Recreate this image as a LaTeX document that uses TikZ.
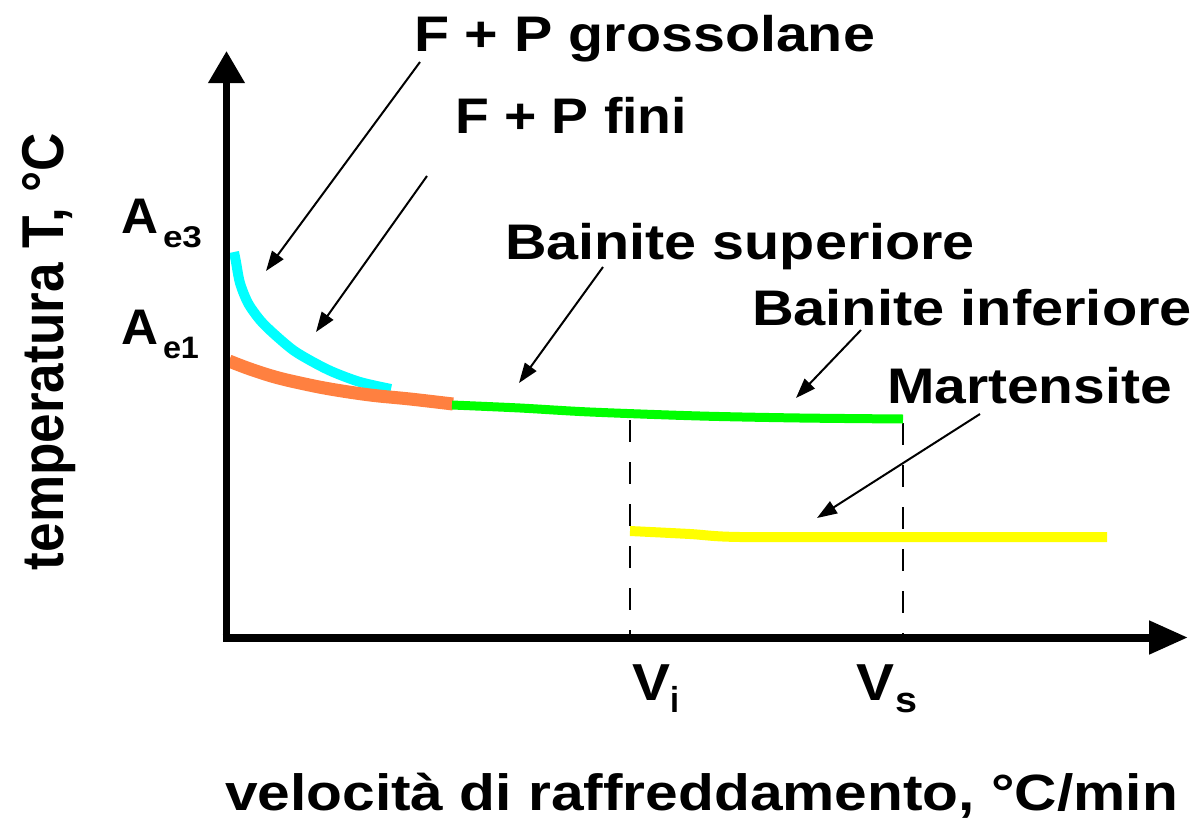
\documentclass[tikz,border=0pt]{standalone}
\usepackage{fontspec}
\setmainfont{Liberation Sans}
\usetikzlibrary{arrows.meta}
\newlength\fitlen
\newcommand\fitbox[3]{%
  \settowidth\fitlen{\fontsize{#2}{#2}\selectfont\bfseries #3}%
  \pgfmathsetmacro\fitsx{#1/\fitlen}%
  \scalebox{\fitsx}[1]{\fontsize{#2}{#2}\selectfont\bfseries #3}}
\definecolor{cyancurve}{RGB}{0,255,255}
\definecolor{orangecurve}{RGB}{255,128,64}
\definecolor{greencurve}{RGB}{0,255,0}
\definecolor{yellowcurve}{RGB}{255,255,0}
\begin{document}
\begin{tikzpicture}[x=1pt,y=-1pt,
  lbl/.style={anchor=base west,inner sep=0pt,outer sep=0pt},
  yaxis/.style={line width=7pt,-{Triangle[length=32pt,width=35pt]}},
  xaxis/.style={line width=8pt,-{Triangle[length=39pt,width=32pt]}},
  pointer/.style={line width=2pt,-{Triangle[length=20pt,width=14pt]}},
  guide/.style={line width=2.5pt,dash pattern=on 22pt off 20pt},
  band/.style={line cap=butt,line join=round}]
\useasboundingbox[fill=white] (0,0) rectangle (1200,822);

% dashed guides
\coordinate (vitop) at (630,420);
\coordinate (vibot) at (630,637);
\coordinate (vstop) at (903,423);
\coordinate (vsbot) at (903,637);
\draw[guide] (vitop) -- (vibot);
\draw[guide] (vstop) -- (vsbot);

% curves
\draw[band,cyancurve,line width=10pt] plot[smooth] coordinates
  {(234,252) (236,262) (240,283) (248,303) (260,320) (273,333) (293,350) (313,362) (333,372) (360,382) (391,389)};
\draw[band,orangecurve,line width=13pt] plot[smooth,tension=0.6] coordinates
  {(229,361) (250,369) (275,377) (300,383) (330,389) (370,395) (410,399) (453,404)};
\draw[band,greencurve,line width=9pt] plot[smooth] coordinates
  {(452,405) (520,408) (590,412) (700,416) (800,418) (903,419)};
\draw[band,yellowcurve,line width=10pt] plot[smooth] coordinates
  {(630,531) (690,534) (740,537) (900,537) (1107,537)};

% axes
\coordinate (ybot) at (226.5,641.5);
\coordinate (ytip) at (226.5,51);
\coordinate (xleft) at (222.5,637.5);
\coordinate (xtip) at (1188,637.5);
\draw[yaxis] (ybot) -- (ytip);
\draw[xaxis] (xleft) -- (xtip);

% labels
\node[lbl] (fpg) at (414,51) {\fitbox{461}{50}{F + P grossolane}};
\node[lbl] (fpf) at (455,133) {\fitbox{232}{50}{F + P fini}};
\node[lbl] (bsup) at (505,259) {\fitbox{470}{50}{Bainite superiore}};
\node[lbl] (binf) at (752,325) {\fitbox{440}{50}{Bainite inferiore}};
\node[lbl] (mart) at (887,403) {\fitbox{285}{50}{Martensite}};
\node[lbl] (ae3) at (121,233) {\fitbox{37}{50}{A}};
\node[lbl] (ae3s) at (163,247) {\fitbox{39}{30}{e3}};
\node[lbl] (ae1) at (121,344) {\fitbox{37}{50}{A}};
\node[lbl] (ae1s) at (163,358) {\fitbox{36}{31}{e1}};
\node[lbl] (vi) at (632,700) {\fitbox{38}{52}{V}};
\node[lbl] (vis) at (670,712) {\fitbox{9}{36}{i}};
\node[lbl] (vs) at (856,700) {\fitbox{38}{52}{V}};
\node[lbl] (vss) at (895,712) {\fitbox{22}{36}{s}};
\node[lbl,rotate=90] (ylab) at (63,570) {\fitbox{437}{59}{temperatura T, °C}};
\node[lbl] (xlab) at (225,810) {\fitbox{953}{51}{velocità di raffreddamento, °C/min}};

% pointers
\coordinate (p1s) at (420,62);  \coordinate (p1e) at (266,271);
\coordinate (p2s) at (427,176); \coordinate (p2e) at (316,332);
\coordinate (p3s) at (603,267); \coordinate (p3e) at (519,383);
\coordinate (p4s) at (861,330); \coordinate (p4e) at (796,398);
\coordinate (p5s) at (980,414); \coordinate (p5e) at (817,518);
\draw[pointer] (p1s) -- (p1e);
\draw[pointer] (p2s) -- (p2e);
\draw[pointer] (p3s) -- (p3e);
\draw[pointer] (p4s) -- (p4e);
\draw[pointer] (p5s) -- (p5e);
\end{tikzpicture}
\end{document}
